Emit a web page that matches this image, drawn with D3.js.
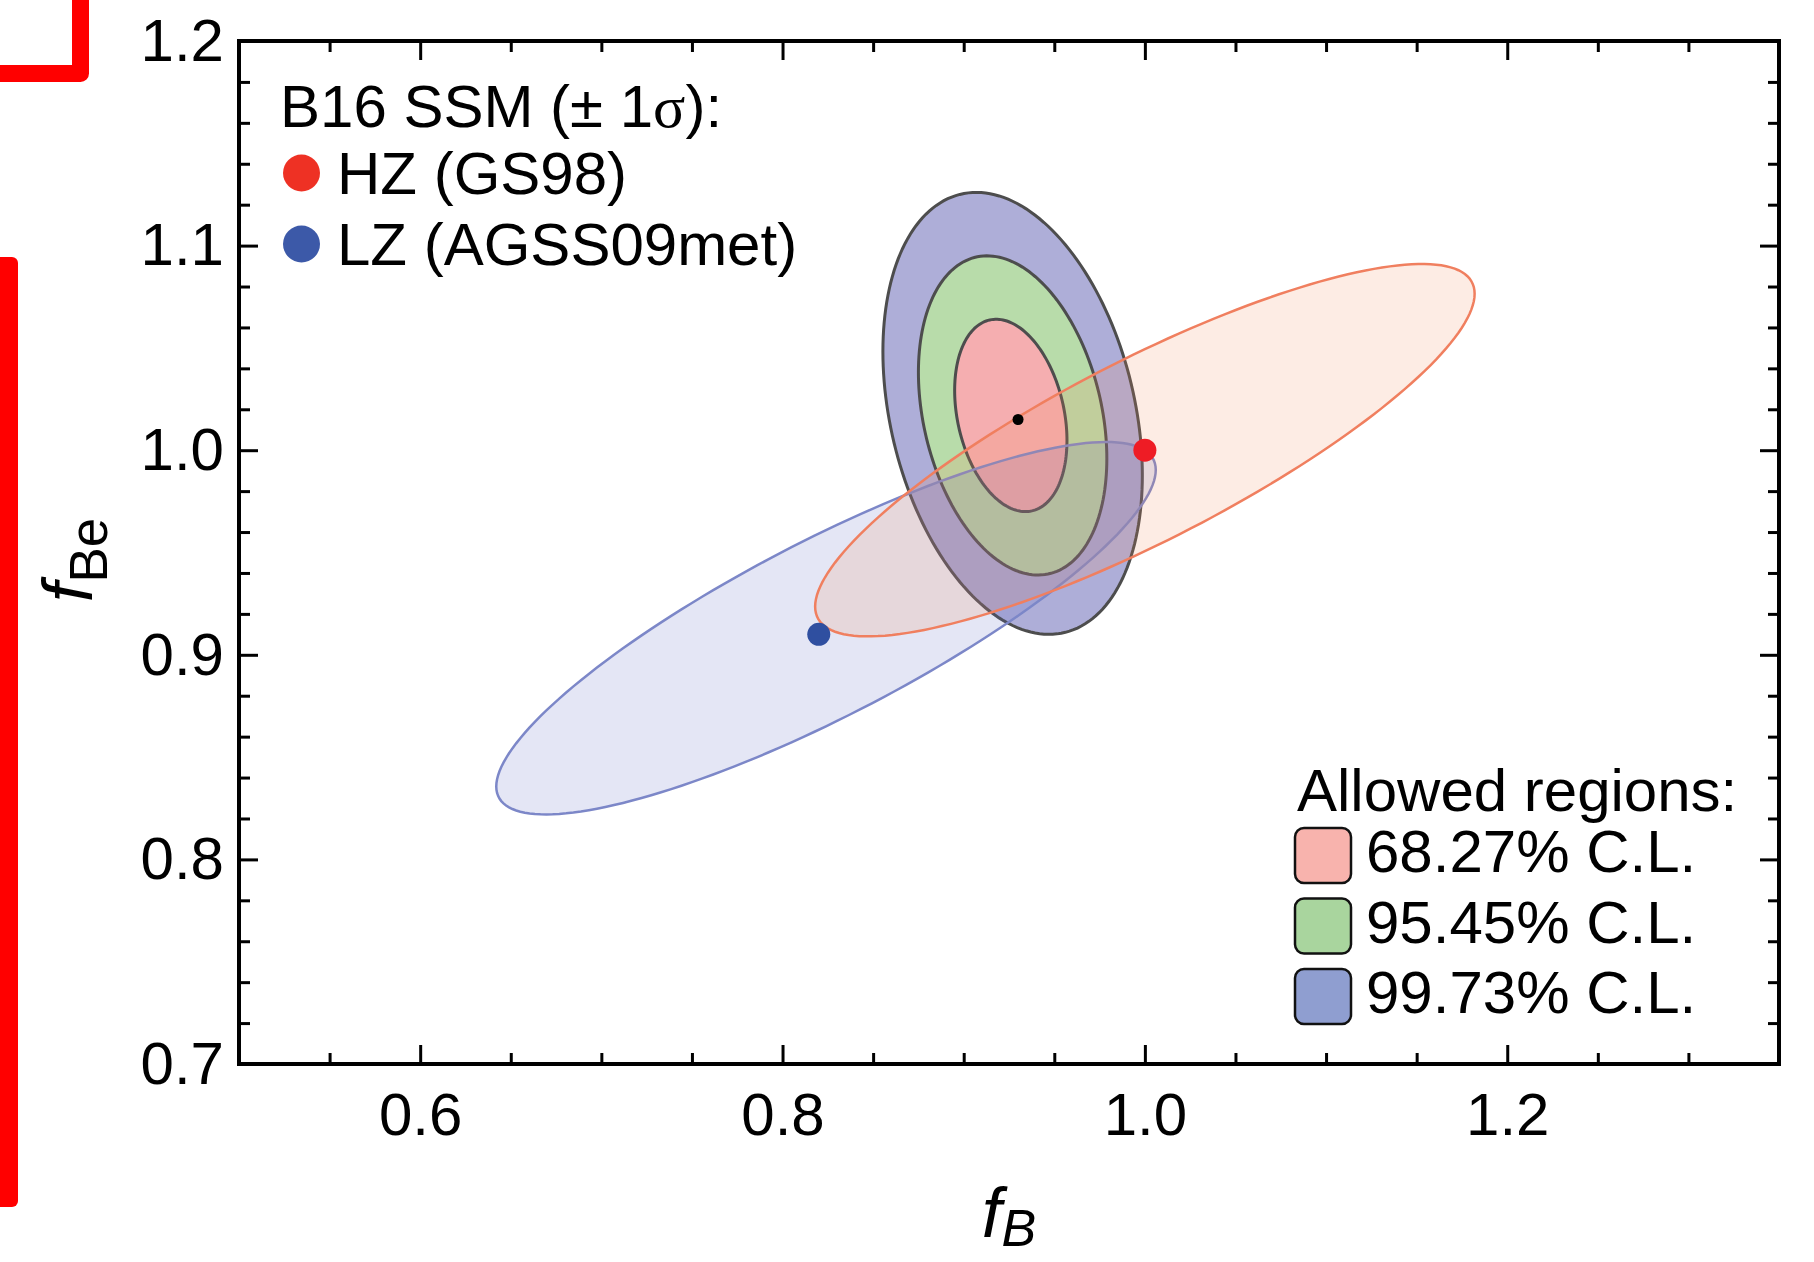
<!DOCTYPE html>
<html>
<head>
<meta charset="utf-8">
<script src="https://cdn.jsdelivr.net/npm/d3@7"></script>
<style>
    body { margin: 0; background: #fff; }
    svg { display: block; font-family: "Liberation Sans", Arial, sans-serif; }
</style>
</head>
<body>
<div id="chart"></div>
<script>
// tick values
const xMajorTicks = [0.6, 0.8, 1.0, 1.2];
const xMinorTicks = [0.55, 0.65, 0.7, 0.75, 0.85, 0.9, 0.95, 1.05, 1.1, 1.15, 1.25, 1.3];
const yMajorTicks = [0.7, 0.8, 0.9, 1.0, 1.1, 1.2];
const yMinorTicks = [0.72, 0.74, 0.76, 0.78, 0.82, 0.84, 0.86, 0.88, 0.92, 0.94, 0.96, 0.98,
                     1.02, 1.04, 1.06, 1.08, 1.12, 1.14, 1.16, 1.18];

// fit contours (allowed regions)
const clLabels = ['68.27% C.L.', '95.45% C.L.', '99.73% C.L.'];
const clCenterB = [0.926, 0.927, 0.927];
const clCenterBe = [1.017, 1.017, 1.018];
const clHalfB = [0.031, 0.052, 0.0716];
const clHalfBe = [0.047, 0.078, 0.108];
const clRho = [-0.26, -0.27, -0.28];
const bestFit = [0.930, 1.015];

// B16 SSM predictions with their 1 sigma ellipses
const ssmLabels = ['HZ (GS98)', 'LZ (AGSS09met)'];
const ssmB = [1.000, 0.820];
const ssmBe = [1.000, 0.910];
const ssmCenterB = [1.000, 0.824];
const ssmCenterBe = [1.000, 0.913];
const ssmHalfB = [0.182, 0.182];
const ssmHalfBe = [0.091, 0.091];
const ssmRho = [0.84, 0.85];

// colors
const clFill = ['#f5aeb0', '#b8dcaa', '#aeaed8'];
const clSwatch = ['#f8b3ad', '#a9d59e', '#8f9ed0'];
const ssmDot = ['#ee1c25', '#2f4fa0'];
const ssmLegendDot = ['#ee3124', '#3c59a8'];
const ssmStroke = ['#f07f5f', '#7c87c8'];
const ssmFill = ['#f5865a', '#5a64be'];

const width = 1814;
const height = 1262;
const plot = {left: 239, right: 1779, top: 41, bottom: 1064};

const svg = d3.select('#chart').append('svg')
    .attr('width', width)
    .attr('height', height);

const x = d3.scaleLinear().domain([0.5, 1.35]).range([plot.left, plot.right]);
const y = d3.scaleLinear().domain([0.7, 1.2]).range([plot.bottom, plot.top]);

// points of a correlated ellipse in data space
function ellipsePoints(cx, cy, hx, hy, rho) {
    const s = Math.sqrt(1 - rho * rho);
    return d3.range(0, 360, 2).map(deg => {
        const t = deg * Math.PI / 180;
        return [cx + hx * Math.cos(t), cy + hy * (rho * Math.cos(t) + s * Math.sin(t))];
    });
}

const line = d3.line()
    .x(d => x(d[0]))
    .y(d => y(d[1]))
    .curve(d3.curveLinearClosed);

// fit contours, outermost first
const order = [2, 1, 0];
svg.append('g').selectAll('path')
    .data(order)
    .enter().append('path')
    .attr('d', i => line(ellipsePoints(clCenterB[i], clCenterBe[i], clHalfB[i], clHalfBe[i], clRho[i])))
    .attr('fill', i => clFill[i])
    .attr('stroke', '#4d4d4d')
    .attr('stroke-width', 3);

// ssm ellipses on top, translucent
const ssmOrder = [1, 0];
svg.append('g').selectAll('path')
    .data(ssmOrder)
    .enter().append('path')
    .attr('d', i => line(ellipsePoints(ssmCenterB[i], ssmCenterBe[i], ssmHalfB[i], ssmHalfBe[i], ssmRho[i])))
    .attr('fill', i => ssmFill[i])
    .attr('fill-opacity', 0.16)
    .attr('stroke', i => ssmStroke[i])
    .attr('stroke-width', 2.5);

// model points and best fit
svg.append('g').selectAll('circle')
    .data(ssmLabels)
    .enter().append('circle')
    .attr('cx', (d, i) => x(ssmB[i]))
    .attr('cy', (d, i) => y(ssmBe[i]))
    .attr('r', 11.5)
    .attr('fill', (d, i) => ssmDot[i]);

svg.append('circle')
    .attr('cx', x(bestFit[0]))
    .attr('cy', y(bestFit[1]))
    .attr('r', 5.5)
    .attr('fill', '#000');

// axes, ticks pointing inward on all four sides
function styleAxis(g) {
    g.select('.domain').remove();
    g.selectAll('.tick line').attr('stroke', '#000').attr('stroke-width', 3);
    g.selectAll('.tick text')
        .attr('fill', '#000')
        .style('font-size', '60px')
        .style('font-family', '"Liberation Sans", Arial, sans-serif');
}
const fmt = d3.format('.1f');

svg.append('g').attr('transform', `translate(0,${plot.bottom})`)
    .call(d3.axisBottom(x).tickValues(xMajorTicks).tickSize(-19).tickPadding(28).tickFormat(fmt))
    .call(styleAxis);
svg.append('g').attr('transform', `translate(0,${plot.bottom})`)
    .call(d3.axisBottom(x).tickValues(xMinorTicks).tickSize(-11).tickFormat(''))
    .call(styleAxis);
svg.append('g').attr('transform', `translate(0,${plot.top})`)
    .call(d3.axisTop(x).tickValues(xMajorTicks).tickSize(-19).tickFormat(''))
    .call(styleAxis);
svg.append('g').attr('transform', `translate(0,${plot.top})`)
    .call(d3.axisTop(x).tickValues(xMinorTicks).tickSize(-11).tickFormat(''))
    .call(styleAxis);

svg.append('g').attr('transform', `translate(${plot.left},0)`)
    .call(d3.axisLeft(y).tickValues(yMajorTicks).tickSize(-19).tickPadding(15).tickFormat(fmt))
    .call(styleAxis);
svg.append('g').attr('transform', `translate(${plot.left},0)`)
    .call(d3.axisLeft(y).tickValues(yMinorTicks).tickSize(-11).tickFormat(''))
    .call(styleAxis);
svg.append('g').attr('transform', `translate(${plot.right},0)`)
    .call(d3.axisRight(y).tickValues(yMajorTicks).tickSize(-19).tickFormat(''))
    .call(styleAxis);
svg.append('g').attr('transform', `translate(${plot.right},0)`)
    .call(d3.axisRight(y).tickValues(yMinorTicks).tickSize(-11).tickFormat(''))
    .call(styleAxis);

// frame
svg.append('rect')
    .attr('x', plot.left)
    .attr('y', plot.top)
    .attr('width', plot.right - plot.left)
    .attr('height', plot.bottom - plot.top)
    .attr('fill', 'none')
    .attr('stroke', '#000')
    .attr('stroke-width', 4);

// axis titles
const xTitle = svg.append('text')
    .attr('x', 1009)
    .attr('y', 1237)
    .attr('text-anchor', 'middle')
    .style('font-size', '71px')
    .style('font-style', 'italic');
xTitle.append('tspan').text('f');
xTitle.append('tspan').attr('dy', 9).style('font-size', '52px').text('B');

const yTitle = svg.append('text')
    .attr('transform', 'translate(92,560) rotate(-90)')
    .attr('text-anchor', 'middle')
    .style('font-size', '71px');
yTitle.append('tspan').style('font-style', 'italic').text('f');
yTitle.append('tspan').attr('dy', 15).style('font-size', '53px').text('Be');

// model legend, top left
const legendTitle = svg.append('text')
    .attr('x', 280)
    .attr('y', 127)
    .style('font-size', '60px');
legendTitle.append('tspan').text('B16 SSM (± 1');
legendTitle.append('tspan').style('font-family', '"Liberation Serif", serif').text('σ');
legendTitle.append('tspan').text('):');

const modelRows = svg.append('g').selectAll('g')
    .data(ssmLabels)
    .enter().append('g')
    .attr('transform', (d, i) => `translate(0,${173 + i * 71})`);
modelRows.append('circle')
    .attr('cx', 301.5)
    .attr('r', 18.5)
    .attr('fill', (d, i) => ssmLegendDot[i]);
modelRows.append('text')
    .attr('x', 337)
    .attr('y', 21)
    .style('font-size', '60px')
    .text(d => d);

// allowed regions legend, bottom right
svg.append('text')
    .attr('x', 1297)
    .attr('y', 811)
    .style('font-size', '60px')
    .text('Allowed regions:');

const clRows = svg.append('g').selectAll('g')
    .data(clLabels)
    .enter().append('g')
    .attr('transform', (d, i) => `translate(0,${872 + i * 70.5})`);
clRows.append('rect')
    .attr('x', 1295)
    .attr('y', -44)
    .attr('width', 56)
    .attr('height', 55)
    .attr('rx', 9)
    .attr('fill', (d, i) => clSwatch[i])
    .attr('stroke', '#111')
    .attr('stroke-width', 2.5);
clRows.append('text')
    .attr('x', 1366)
    .attr('y', 0)
    .style('font-size', '60px')
    .text(d => d);

// red markup strokes at the left edge
svg.append('path')
    .attr('d', 'M -20 73.5 H 80.5 V -20')
    .attr('fill', 'none')
    .attr('stroke', '#ff0000')
    .attr('stroke-width', 17)
    .attr('stroke-linejoin', 'round');
svg.append('rect')
    .attr('x', -20)
    .attr('y', 257)
    .attr('width', 38)
    .attr('height', 950)
    .attr('rx', 6)
    .attr('fill', '#ff0000');
</script>
</body>
</html>
